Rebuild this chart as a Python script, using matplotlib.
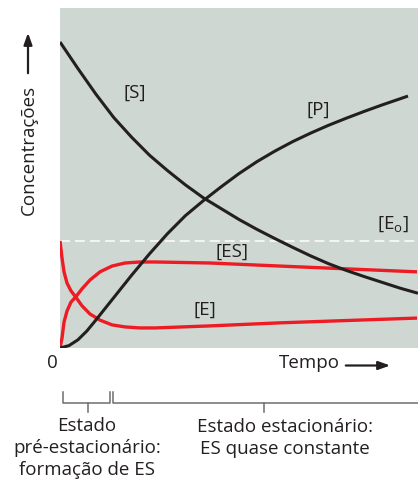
import matplotlib
matplotlib.use('Agg')
from matplotlib import pyplot as plt

plt.rcParams['font.family'] = ['Open Sans', 'DejaVu Sans']
plt.rcParams['mathtext.default'] = 'regular'

# valores (tempo 0-10, concentração 0-10)
tempo_s = [0, 0.5, 1.0, 1.5, 2.0, 2.5, 3.0, 3.5, 4.0, 4.5, 5.0, 5.5, 6.0, 6.5, 7.0, 7.5, 8.0, 8.5, 9.0, 9.5, 10.0]
conc_s = [9.00, 8.22, 7.47, 6.78, 6.20, 5.67, 5.22, 4.80, 4.42, 4.10, 3.78, 3.49, 3.22, 2.96, 2.71, 2.48, 2.28, 2.10, 1.93, 1.76, 1.61]

tempo_p = [0, 0.25, 0.5, 0.75, 1.0, 1.25, 1.5, 1.75, 2.0, 2.5, 3.0, 3.5, 4.0, 4.5, 5.0, 5.5, 6.0, 6.5, 7.0, 7.5, 8.0, 8.5, 9.0, 9.5, 9.72]
conc_p = [0.0, 0.07, 0.24, 0.50, 0.82, 1.15, 1.48, 1.81, 2.14, 2.77, 3.36, 3.89, 4.33, 4.74, 5.13, 5.48, 5.79, 6.07, 6.32, 6.55, 6.76, 6.96, 7.15, 7.33, 7.41]

tempo_e = [0, 0.056, 0.112, 0.196, 0.307, 0.438, 0.615, 0.838, 1.117, 1.453, 1.816, 2.235, 2.654, 4.190, 6.145, 9.972]
conc_e = [3.15, 2.65, 2.24, 1.91, 1.68, 1.50, 1.24, 1.00, 0.82, 0.68, 0.62, 0.59, 0.59, 0.65, 0.74, 0.88]
conc_es = [0, 0.29, 0.76, 1.09, 1.35, 1.50, 1.74, 2.00, 2.24, 2.41, 2.50, 2.53, 2.53, 2.50, 2.41, 2.24]

e0 = 3.15

preto = '#231f20'
vermelho = '#ed1c24'
fundo = '#cfd7d3'

fig = plt.figure(figsize=(4.18, 4.8), dpi=100)
ax = fig.add_axes([60/418, 132/480, 358/418, 340/480])
ax.set_facecolor(fundo)
ax.set_xlim(0, 10)
ax.set_ylim(0, 10)
for sp in ax.spines.values():
    sp.set_visible(False)
ax.set_xticks([])
ax.set_yticks([])

ax.axhline(e0, color='white', lw=1.1, dashes=(6.5, 3.3))
ax.plot(tempo_e, conc_es, color=vermelho, lw=2.4, solid_capstyle='butt', solid_joinstyle='round')
ax.plot(tempo_e, conc_e, color=vermelho, lw=2.4, solid_capstyle='butt', solid_joinstyle='round')
ax.plot(tempo_s, conc_s, color=preto, lw=2.2, solid_capstyle='butt', solid_joinstyle='round')
ax.plot(tempo_p, conc_p, color=preto, lw=2.2, solid_capstyle='butt', solid_joinstyle='round')

# camada por cima em coordenadas de pixel para textos e chavetas
ov = fig.add_axes([0, 0, 1, 1])
ov.set_xlim(0, 418)
ov.set_ylim(480, 0)
ov.axis('off')
ov.patch.set_visible(False)

fs = 13.5
txt = dict(color=preto, fontsize=fs, ha='center', va='center')

ov.text(135, 93, '[S]', **txt)
ov.text(318, 110, '[P]', **txt)
ov.text(393, 224, '[E$_o$]', **txt)
ov.text(232, 252, '[ES]', **txt)
ov.text(205, 310, '[E]', **txt)

ov.text(28.5, 150, 'Concentrações', rotation=90, **txt)
ov.annotate('', xy=(28, 30), xytext=(28, 76),
            arrowprops=dict(arrowstyle='-|>,head_length=0.7,head_width=0.25', color=preto, lw=1.6))

ov.text(52, 363, '0', **txt)
ov.text(309, 363, 'Tempo', **txt)
ov.annotate('', xy=(393, 365.5), xytext=(343, 365.5),
            arrowprops=dict(arrowstyle='-|>,head_length=0.7,head_width=0.25', color=preto, lw=1.6))

cinza = '#6d6e71'
lw_c = 1.1
ov.plot([62.5, 62.5, 110, 110], [392, 403, 403, 392], color=cinza, lw=lw_c)
ov.plot([87.5, 87.5], [403, 412], color=cinza, lw=lw_c)
ov.plot([113, 113, 418], [392, 403, 403], color=cinza, lw=lw_c)
ov.plot([264, 264], [403, 412], color=cinza, lw=lw_c)

ov.text(87, 448, 'Estado\npré-estacionário:\nformação de ES', linespacing=1.3, **txt)
ov.text(285, 438, 'Estado estacionário:\nES quase constante', linespacing=1.3, **txt)

fig.savefig('out.png', dpi=100)
